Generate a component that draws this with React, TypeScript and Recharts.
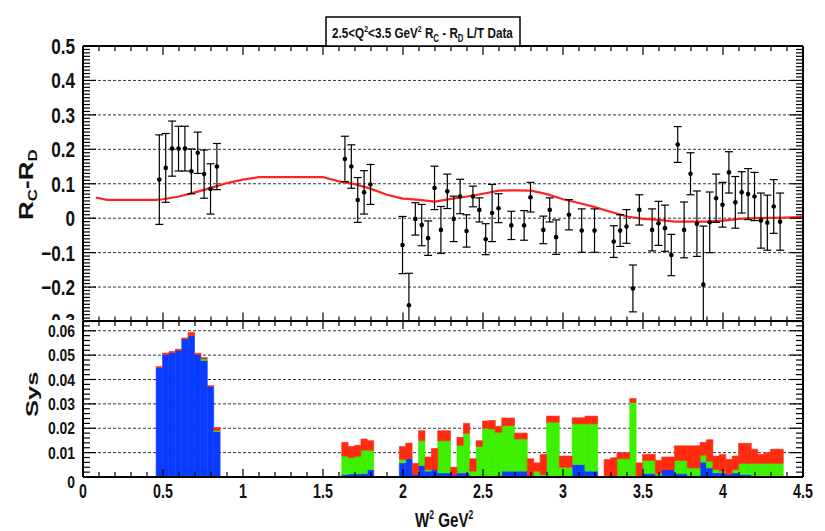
import React from 'react';
import {
  ComposedChart,
  Bar,
  Line,
  Scatter,
  ErrorBar,
  XAxis,
  YAxis,
  CartesianGrid,
  ReferenceLine,
} from 'recharts';

// ---- R_C - R_D data points (W^2 bin centre, value, stat. error) ----
const pointW2 = [
  0.477, 0.517, 0.557, 0.597, 0.637, 0.677, 0.717, 0.757, 0.797, 0.837,
  1.637, 1.677, 1.717, 1.757, 1.797,
  1.997, 2.037, 2.077, 2.117, 2.157, 2.197, 2.237, 2.277, 2.317, 2.357, 2.397, 2.437, 2.477, 2.517, 2.557, 2.597,
  2.677, 2.757, 2.797, 2.877, 2.917, 2.957, 3.037, 3.117, 3.197,
  3.317, 3.357, 3.397, 3.437, 3.477,
  3.557, 3.597, 3.637, 3.677, 3.717, 3.757, 3.797, 3.837, 3.877, 3.917, 3.957, 3.997,
  4.037, 4.077, 4.117, 4.157, 4.197, 4.237, 4.277, 4.317, 4.357,
];
const pointR = [
  0.112, 0.146, 0.202, 0.202, 0.202, 0.136, 0.19, 0.128, 0.085, 0.15,
  0.172, 0.15, 0.053, 0.075, 0.098,
  -0.078, -0.253, -0.002, -0.02, -0.058, 0.088, -0.034, 0.078, -0.002, 0.063, -0.037, 0.063, 0.024, -0.061, 0.015, 0.029,
  -0.021, -0.021, 0.061, -0.034, 0.024, -0.055, 0.01, -0.036, -0.036,
  -0.068, -0.036, -0.024, -0.204, 0.024,
  -0.034, -0.015, -0.029, -0.107, 0.214, -0.034, 0.129, -0.016, -0.193, -0.012, 0.058, 0.039,
  0.133, 0.046, 0.075, 0.07, 0.063, -0.007, -0.013, 0.034, -0.01,
];
const pointErr = [
  0.13, 0.1, 0.08, 0.065, 0.065, 0.065, 0.06, 0.07, 0.073, 0.067,
  0.066, 0.063, 0.065, 0.063, 0.058,
  0.083, 0.093, 0.047, 0.06, 0.05, 0.063, 0.068, 0.05, 0.066, 0.05, 0.047, 0.03, 0.035, 0.045, 0.083, 0.042,
  0.041, 0.043, 0.043, 0.04, 0.035, 0.05, 0.044, 0.063, 0.063,
  0.046, 0.046, 0.049, 0.068, 0.044,
  0.061, 0.064, 0.067, 0.06, 0.052, 0.081, 0.061, 0.095, 0.17, 0.088, 0.07, 0.065,
  0.06, 0.075, 0.06, 0.074, 0.07, 0.08, 0.08, 0.078, 0.083,
];

// ---- fit curve (red) ----
const curveW2 = [
  0.08, 0.15, 0.3, 0.45, 0.5, 0.6, 0.7, 0.8, 0.9, 1.0, 1.1, 1.2, 1.3, 1.4, 1.5, 1.55, 1.6, 1.7, 1.8, 1.9,
  2.0, 2.1, 2.2, 2.3, 2.4, 2.5, 2.6, 2.7, 2.8, 2.9, 3.0, 3.1, 3.2, 3.3, 3.4, 3.5, 3.6, 3.7, 3.8, 3.9,
  4.0, 4.1, 4.2, 4.3, 4.4, 4.5,
];
const curveR = [
  0.06, 0.053, 0.053, 0.053, 0.055, 0.063, 0.075, 0.088, 0.102, 0.112, 0.119, 0.119, 0.119, 0.119, 0.119, 0.113, 0.107, 0.099, 0.085, 0.068,
  0.057, 0.053, 0.048, 0.056, 0.063, 0.071, 0.08, 0.081, 0.08, 0.07, 0.055, 0.044, 0.032, 0.018, 0.005, -0.002, -0.005, -0.01, -0.01, -0.01,
  -0.007, -0.002, 0.0, 0.001, 0.002, 0.004,
];

// ---- systematic errors, stacked (blue, green, red) ----
const sysW2 = [
  0.477, 0.517, 0.557, 0.597, 0.637, 0.677, 0.717, 0.757, 0.797, 0.837,
  1.637, 1.677, 1.717, 1.757, 1.797,
  1.997, 2.037, 2.077, 2.117, 2.157, 2.197, 2.237, 2.277, 2.317, 2.357, 2.397, 2.437, 2.477, 2.517, 2.557, 2.597,
  2.637, 2.677, 2.717, 2.757, 2.797, 2.837, 2.877, 2.917, 2.957, 2.997, 3.037, 3.077, 3.117, 3.157, 3.197,
  3.277, 3.317, 3.357, 3.397, 3.437, 3.477, 3.517, 3.557, 3.597, 3.637, 3.677, 3.717, 3.757, 3.797, 3.837,
  3.877, 3.917, 3.957, 3.997, 4.037, 4.077, 4.117, 4.157, 4.197, 4.237, 4.277, 4.317, 4.357,
];
const sysBlue = [
  0.0448, 0.0502, 0.051, 0.052, 0.0566, 0.0579, 0.0502, 0.0478, 0.0371, 0.0187,
  0.001, 0.0013, 0.0013, 0.0014, 0.003,
  0.0058, 0.0075, 0.001, 0.0047, 0.0024, 0.003, 0.0017, 0.0017, 0.001, 0.0017, 0.0017, 0.0005, 0.0005, 0.0005, 0.0003, 0.0003,
  0.0024, 0.0024, 0.0024, 0.0024, 0.0005, 0.0003, 0.0003, 0.0003, 0.0003, 0.0003, 0.0003, 0.0051, 0.0051, 0.0024, 0.0024,
  0, 0, 0, 0, 0, 0, 0.0014, 0.0014, 0.0007, 0.003, 0.003, 0.0014, 0.0014, 0.0005, 0.0005,
  0.0061, 0.0037, 0.0017, 0.0017, 0.001, 0.0017, 0.001, 0.001, 0.0005, 0.0003, 0.0003, 0.0003, 0.0003,
];
const sysGreen = [
  0, 0, 0, 0, 0, 0, 0, 0.0006, 0, 0.0004,
  0.0076, 0.0066, 0.0072, 0.0096, 0.008,
  0.0014, 0, 0, 0.0102, 0.0006, 0, 0.0132, 0.0132, 0, 0.0113, 0.0162, 0.0019, 0.012, 0.0195, 0.0194, 0.018,
  0.0187, 0.0187, 0.0132, 0.0132, 0, 0.0021, 0.0007, 0.0222, 0.0222, 0.0037, 0.0037, 0.0167, 0.0167, 0.0194, 0.0194,
  0, 0.0003, 0.0075, 0.0075, 0.0306, 0, 0.0054, 0.0054, 0.0007, 0, 0, 0.0054, 0.0054, 0.0032, 0.0032,
  0.0029, 0.0028, 0.0013, 0.0007, 0, 0.0013, 0.0046, 0.0046, 0.0051, 0.0053, 0.0053, 0.0053, 0.0053,
];
const sysRed = [
  0.0005, 0.0006, 0.0005, 0.0004, 0.0004, 0.0014, 0.0006, 0.0006, 0.0004, 0.0012,
  0.0056, 0.0046, 0.0045, 0.0046, 0.0039,
  0.0053, 0.0064, 0.0046, 0.0041, 0.0052, 0.0087, 0.0041, 0.0041, 0.003, 0.0033, 0.0041, 0.0051, 0.0024, 0.003, 0.0035, 0.0025,
  0.0031, 0.0031, 0.0024, 0.0024, 0.007, 0.0034, 0.0083, 0.0025, 0.0025, 0.0046, 0.0046, 0.0025, 0.0025, 0.0032, 0.0032,
  0.0072, 0.0076, 0.0025, 0.0025, 0.0016, 0.0058, 0.0025, 0.0025, 0.0054, 0.0052, 0.0052, 0.006, 0.006, 0.0091, 0.0091,
  0.0052, 0.0088, 0.0056, 0.0069, 0.0062, 0.0056, 0.0082, 0.0082, 0.0058, 0.0037, 0.0044, 0.0058, 0.0058,
];

// ---- axis ticks ----
const xTicks = [0, 0.5, 1, 1.5, 2, 2.5, 3, 3.5, 4, 4.5];
const rTicks = [-0.3, -0.2, -0.1, 0, 0.1, 0.2, 0.3, 0.4, 0.5];
const sysTicks = [0, 0.01, 0.02, 0.03, 0.04, 0.05, 0.06];

const X_DOMAIN: [number, number] = [0, 4.5];
const R_DOMAIN: [number, number] = [-0.3, 0.5];
const S_DOMAIN: [number, number] = [0, 0.064];

// pad rectangles on the page (px), matching the chart margins below
const PAD_L = 83;
const PAD_R = 803;
const TOP_T = 46;
const TOP_B = 321.5;
const SYS_T = 321;
const SYS_B = 477;

const FONT = '"Liberation Sans", Arial, Helvetica, sans-serif';
const BLUE = '#0a3cff';
const GREEN = '#3cf000';
const RED = '#ff2a10';

// evenly spaced small tick positions for the ROOT-style frame
const tickRange = (from: number, to: number, step: number) => {
  const out: number[] = [];
  const n = Math.round((to - from) / step);
  for (let i = 0; i <= n; i++) out.push(+(from + i * step).toFixed(4));
  return out;
};
const xMinor = tickRange(0, 4.5, 0.1);
const rMinor = tickRange(-0.3, 0.5, 0.01);
const sysMinor = tickRange(0, 0.064, 0.002);

const points = pointW2.map((w, i) => ({ w, r: pointR[i], err: pointErr[i] }));
const curve = curveW2.map((w, i) => ({ w, r: curveR[i] }));
const sysRows = sysW2.map((w, i) => ({ w, blue: sysBlue[i], green: sysGreen[i], red: sysRed[i] }));

const fmt = (v: number) => (v < 0 ? '\u2212' + String(Math.abs(v)) : String(v));
const isOn = (v: number, step: number) => Math.abs(v / step - Math.round(v / step)) < 1e-6;

const yLabel = (size: number, squeeze: number, zeroShift = 0) => (props: any) => {
  const { x, y, payload } = props;
  const shift = payload.value === 0 ? zeroShift : 0;
  return (
    <g transform={`translate(${x},${y + shift})`}>
      <text transform={`scale(${squeeze},1)`} textAnchor="end" dy={size * 0.36} fontSize={size}
        fontWeight={700} fontFamily={FONT} fill="#111">
        {fmt(payload.value)}
      </text>
    </g>
  );
};

const xLabel = (props: any) => {
  const { x, y, payload } = props;
  return (
    <g transform={`translate(${x},${y + 21})`}>
      <text transform="scale(0.68,1)" textAnchor="middle" fontSize={21} fontWeight={700} fontFamily={FONT} fill="#111">
        {fmt(payload.value)}
      </text>
    </g>
  );
};

// pad border
const border = (xId: string, yId: string, yDom: [number, number]) => {
  const [x0, x1] = X_DOMAIN;
  const [y0, y1] = yDom;
  const sides = [
    [{ x: x0, y: y0 }, { x: x0, y: y1 }],
    [{ x: x1, y: y0 }, { x: x1, y: y1 }],
    [{ x: x0, y: y0 }, { x: x1, y: y0 }],
    [{ x: x0, y: y1 }, { x: x1, y: y1 }],
  ];
  return sides.map((s, i) => (
    <ReferenceLine key={`f${i}`} xAxisId={xId} yAxisId={yId} segment={s as any} stroke="#000" strokeWidth={2} ifOverflow="visible" />
  ));
};

// inward ROOT-style ticks on all four sides of a pad
const PadTicks = ({ yMinor, yMajorStep, yDom, top, bottom, xLong, xShort }: any) => {
  const px = (v: number) => PAD_L + ((v - X_DOMAIN[0]) / (X_DOMAIN[1] - X_DOMAIN[0])) * (PAD_R - PAD_L);
  const py = (v: number) => bottom - ((v - yDom[0]) / (yDom[1] - yDom[0])) * (bottom - top);
  const out: any[] = [];
  yMinor.forEach((v: number) => {
    const len = isOn(v, yMajorStep) ? 13 : 7;
    const y = py(v);
    out.push(<line key={`l${v}`} x1={PAD_L} y1={y} x2={PAD_L + len} y2={y} />);
    out.push(<line key={`r${v}`} x1={PAD_R} y1={y} x2={PAD_R - len} y2={y} />);
  });
  xMinor.forEach((v) => {
    const len = isOn(v, 0.5) ? xLong : xShort;
    const x = px(v);
    out.push(<line key={`t${v}`} x1={x} y1={top} x2={x} y2={top + len} />);
    out.push(<line key={`b${v}`} x1={x} y1={bottom} x2={x} y2={bottom - len} />);
  });
  return <g stroke="#000" strokeWidth={1.2}>{out}</g>;
};

const Dot = (p: any) => <circle cx={p.cx} cy={p.cy} r={2.3} fill="#000" />;

const TopPanel = () => (
  <ComposedChart width={825} height={330} margin={{ top: 46, right: 22, bottom: 8.5, left: 43 }}>
    <CartesianGrid xAxisId="x" yAxisId="r" vertical={false} stroke="#333" strokeDasharray="3 2" />
    <XAxis xAxisId="x" dataKey="w" type="number" domain={X_DOMAIN} allowDataOverflow ticks={xTicks} hide />
    <YAxis
      yAxisId="r" dataKey="r" type="number" domain={R_DOMAIN} allowDataOverflow
      ticks={rTicks} interval={0} width={40} tickSize={0} tickMargin={8}
      tickLine={false} axisLine={false} tick={yLabel(22, 0.78)}
    />
    <Line
      xAxisId="x" yAxisId="r" data={curve} dataKey="r" type="linear"
      stroke="#ff2424" strokeWidth={2.2} dot={false} isAnimationActive={false}
    />
    <Scatter xAxisId="x" yAxisId="r" data={points} dataKey="r" shape={Dot} isAnimationActive={false}>
      <ErrorBar dataKey="err" direction="y" width={4} stroke="#000" strokeWidth={1.2} />
    </Scatter>
    {border('x', 'r', R_DOMAIN)}
  </ComposedChart>
);

const SysPanel = () => (
  <ComposedChart
    width={825} height={221} data={sysRows}
    margin={{ top: 11, right: 22, bottom: 24, left: 43 }}
    barCategoryGap={0} barGap={0}
  >
    <CartesianGrid xAxisId="x" yAxisId="s" vertical={false} stroke="#333" strokeDasharray="3 2" />
    <XAxis
      xAxisId="x" dataKey="w" type="number" domain={X_DOMAIN} allowDataOverflow
      ticks={xTicks} interval={0} height={30} tickSize={0} tickMargin={0}
      tickLine={false} axisLine={false} tick={xLabel}
    />
    <YAxis
      yAxisId="s" type="number" domain={S_DOMAIN} allowDataOverflow
      ticks={sysTicks} interval={0} width={40} tickSize={0} tickMargin={8}
      tickLine={false} axisLine={false} tick={yLabel(17, 0.82, 5)}
    />
    <Bar xAxisId="x" yAxisId="s" dataKey="blue" stackId="sys" fill={BLUE} stroke={BLUE} strokeWidth={0.6} barSize={6.39} isAnimationActive={false} />
    <Bar xAxisId="x" yAxisId="s" dataKey="green" stackId="sys" fill={GREEN} stroke={GREEN} strokeWidth={0.6} barSize={6.39} isAnimationActive={false} />
    <Bar xAxisId="x" yAxisId="s" dataKey="red" stackId="sys" fill={RED} stroke={RED} strokeWidth={0.6} barSize={6.39} isAnimationActive={false} />
    {border('x', 's', S_DOMAIN)}
  </ComposedChart>
);

export default function App() {
  return (
    <div style={{ position: 'absolute', left: 0, top: 0, width: 825, height: 531, background: '#fff', overflow: 'hidden' }}>
      <div style={{ position: 'absolute', left: 0, top: 0, width: 825, height: 320, overflow: 'hidden' }}>
        <TopPanel />
      </div>
      <div style={{ position: 'absolute', left: 0, top: 310, width: 825, height: 221 }}>
        <SysPanel />
      </div>
      <svg
        width={825}
        height={531}
        style={{ position: 'absolute', left: 0, top: 0, pointerEvents: 'none' }}
        fontFamily={FONT}
        fontWeight={700}
        fill="#111"
      >
        <PadTicks yMinor={rMinor} yMajorStep={0.1} yDom={R_DOMAIN} top={TOP_T} bottom={TOP_B} xLong={9} xShort={5} />
        <PadTicks yMinor={sysMinor} yMajorStep={0.01} yDom={S_DOMAIN} top={SYS_T} bottom={SYS_B} xLong={8} xShort={5} />
        <rect x={326} y={17} width={194} height={29} fill="#fff" stroke="#000" strokeWidth={1.5} />
        <g transform="translate(332,38) scale(0.78,1)">
          <text x={0} y={0} fontSize={15}>
            2.5&lt;Q<tspan dy={-6} fontSize={9}>2</tspan>
            <tspan dy={6}>&lt;3.5 GeV</tspan>
            <tspan dy={-6} fontSize={9}>2</tspan>
            <tspan dy={6}> R</tspan>
            <tspan dy={4} fontSize={10}>C</tspan>
            <tspan dy={-4}> - R</tspan>
            <tspan dy={4} fontSize={10}>D</tspan>
            <tspan dy={-4}> L/T Data</tspan>
          </text>
        </g>
        <g transform="translate(33,220) rotate(-90) scale(1.3,1)">
          <text x={0} y={0} fontSize={20}>
            R<tspan dy={4} fontSize={13}>C</tspan>
            <tspan dy={-4}>-R</tspan>
            <tspan dy={4} fontSize={13}>D</tspan>
          </text>
        </g>
        <g transform="translate(38,417) rotate(-90) scale(1.5,1)">
          <text x={0} y={0} fontSize={17}>Sys</text>
        </g>
        <g transform="translate(415,527) scale(0.72,1)">
          <text x={0} y={0} fontSize={21}>
            W<tspan dy={-8} fontSize={12}>2</tspan>
            <tspan dy={8}> GeV</tspan>
            <tspan dy={-8} fontSize={12}>2</tspan>
          </text>
        </g>
      </svg>
    </div>
  );
}
